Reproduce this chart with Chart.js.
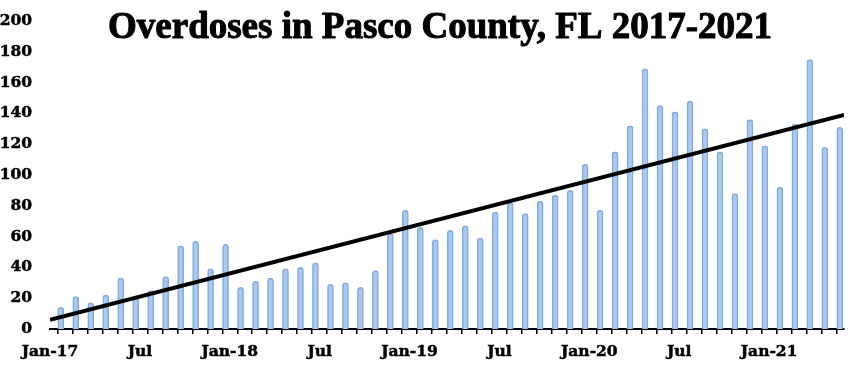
<!DOCTYPE html>
<html>
<head>
<meta charset="utf-8">
<script src="https://cdn.jsdelivr.net/npm/chart.js@4.4.1/dist/chart.umd.min.js"></script>
<style>
  html, body { margin: 0; padding: 0; background: #ffffff; }
  #wrap { width: 860px; height: 381px; position: relative; }
</style>
</head>
<body>
<div id="wrap"><canvas id="c"></canvas></div>
<script>
const titleText = 'Overdoses in Pasco County, FL 2017-2021';
const categories = [
  'Jan-17','Feb-17','Mar-17','Apr-17','May-17','Jun-17','Jul-17','Aug-17','Sep-17','Oct-17','Nov-17','Dec-17',
  'Jan-18','Feb-18','Mar-18','Apr-18','May-18','Jun-18','Jul-18','Aug-18','Sep-18','Oct-18','Nov-18','Dec-18',
  'Jan-19','Feb-19','Mar-19','Apr-19','May-19','Jun-19','Jul-19','Aug-19','Sep-19','Oct-19','Nov-19','Dec-19',
  'Jan-20','Feb-20','Mar-20','Apr-20','May-20','Jun-20','Jul-20','Aug-20','Sep-20','Oct-20','Nov-20','Dec-20',
  'Jan-21','Feb-21','Mar-21','Apr-21','May-21'
];
const overdoses = [
  14,21,17,22,33,20,25,34,54,57,39,55,
  27,31,33,39,40,43,29,30,27,38,62,77,
  66,58,64,67,59,76,82,75,83,87,90,107,
  77,115,132,169,145,141,148,130,115,88,136,119,
  92,133,175,118,131
];
const xTickLabels = ['Jan-17','Jul','Jan-18','Jul','Jan-19','Jul','Jan-20','Jul','Jan-21'];
const yTicks = [0,20,40,60,80,100,120,140,160,180,200];
const trendStart = 6;
const trendEnd = 139;

const barShift = 0.72;
const tickFont = { family: '"DejaVu Serif"', weight: 'bold', size: 15.5 };

const titlePlugin = {
  id: 'titleText',
  afterDraw(chart) {
    const ctx = chart.ctx;
    ctx.save();
    ctx.font = 'bold 37px "Liberation Serif"';
    ctx.fillStyle = '#000000';
    ctx.strokeStyle = '#000000';
    ctx.lineWidth = 1;
    ctx.lineJoin = 'round';
    ctx.textAlign = 'center';
    ctx.textBaseline = 'alphabetic';
    ctx.strokeText(titleText, 440, 38);
    ctx.fillText(titleText, 440, 38);
    ctx.restore();
  }
};

new Chart(document.getElementById('c'), {
  type: 'bar',
  data: {
    datasets: [
      {
        type: 'line',
        label: 'Trend',
        data: [{ x: 0, y: trendStart }, { x: categories.length, y: trendEnd }],
        borderColor: '#000000',
        borderWidth: 4,
        pointRadius: 0,
        fill: false,
        order: 0
      },
      {
        type: 'bar',
        label: 'Overdoses',
        data: overdoses.map((v, i) => ({ x: i + barShift, y: v })),
        backgroundColor: '#A9C9EE',
        borderColor: '#82AADB',
        borderWidth: 1.5,
        borderSkipped: 'bottom',
        borderRadius: { topLeft: 3, topRight: 3 },
        barThickness: 6,
        order: 1
      }
    ]
  },
  options: {
    responsive: true,
    maintainAspectRatio: false,
    animation: false,
    layout: { padding: { top: 21, right: 16, left: 0, bottom: 0 } },
    plugins: { legend: { display: false }, tooltip: { enabled: false }, title: { display: false } },
    scales: {
      x: {
        type: 'linear',
        min: 0,
        max: categories.length,
        offset: false,
        grid: { drawOnChartArea: false, drawTicks: true, tickLength: 5, color: '#000000', lineWidth: 1.5 },
        border: { display: true, color: '#000000', width: 2 },
        ticks: {
          stepSize: 1,
          autoSkip: false,
          maxRotation: 0,
          minRotation: 0,
          padding: 9,
          color: '#000000',
          textStrokeColor: '#000000',
          textStrokeWidth: 0.5,
          font: tickFont,
          callback: (v) => (v % 6 === 0 && xTickLabels[v / 6] !== undefined) ? xTickLabels[v / 6] : ''
        },
        afterFit: (s) => { s.height = 52; }
      },
      y: {
        min: yTicks[0],
        max: yTicks[yTicks.length - 1],
        grid: { display: false, drawTicks: false },
        border: { display: false },
        afterBuildTicks: (s) => { s.ticks = yTicks.map(v => ({ value: v })); },
        ticks: { padding: 18, color: '#000000', textStrokeColor: '#000000', textStrokeWidth: 0.5, font: tickFont },
        afterFit: (s) => { s.width = 50; s.paddingTop = 0; s.paddingBottom = 0; }
      }
    }
  },
  plugins: [titlePlugin]
});
</script>
</body>
</html>
